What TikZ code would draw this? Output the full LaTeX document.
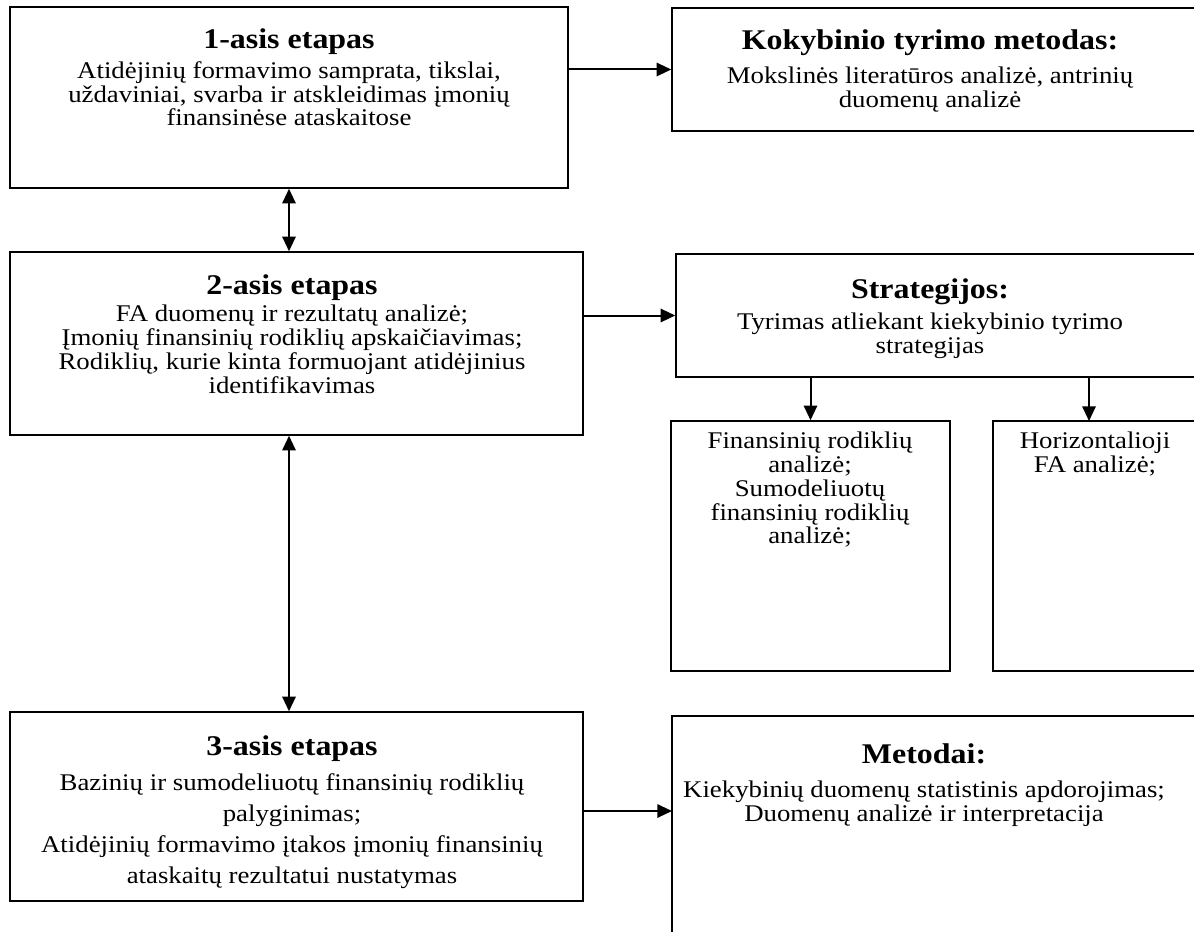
\documentclass[tikz,border=0pt]{standalone}
\usepackage{fontspec}
\setmainfont{Liberation Serif}[FakeStretch=1.12]
\usetikzlibrary{arrows.meta,fit}
\newcommand{\ttl}[1]{{\fontsize{21.4}{24}\selectfont\bfseries #1}}
\setlength{\lineskiplimit}{-8pt}

\begin{document}
\begin{tikzpicture}[x=0.75pt, y=-0.75pt,
  box/.style={draw, line width=1.1pt, inner sep=0pt},
  txt/.style={anchor=north, align=center, inner sep=0pt,
    font=\fontsize{17.95}{17.8}\selectfont},
  arr/.style={line width=1.5pt, -{Triangle[length=11pt,width=10pt]}},
  darr/.style={line width=1.5pt, {Triangle[length=11pt,width=10pt]}-{Triangle[length=11pt,width=10pt]}}]
\useasboundingbox (0,0) rectangle (1194,931);
\clip (0,0) rectangle (1194,931);

% boxes
\node[box, fit={(10,7) (568,188)}] (b1) {};
\node[box, fit={(672,8) (1215,131)}] (k) {};
\node[box, fit={(10,252) (583,435)}] (b2) {};
\node[box, fit={(676,254) (1215,377)}] (s) {};
\node[box, fit={(671,421) (950,671)}] (f) {};
\node[box, fit={(993,421) (1215,671)}] (h) {};
\node[box, fit={(10,712) (583,901)}] (b3) {};
\node[box, fit={(672,716) (1215,960)}] (m) {};

% texts
\node[txt] (t1) at (289,28) {\ttl{1-asis etapas}\\[5pt]
  Atidėjinių formavimo samprata, tikslai,\\
  uždaviniai, svarba ir atskleidimas įmonių\\
  finansinėse ataskaitose};
\node[txt] (tk) at (930,29) {\ttl{Kokybinio tyrimo metodas:}\\[8pt]
  Mokslinės literatūros analizė, antrinių\\
  duomenų analizė};
\node[txt] (t2) at (292,274) {\ttl{2-asis etapas}\\[3pt]
  FA duomenų ir rezultatų analizė;\\
  Įmonių finansinių rodiklių apskaičiavimas;\\
  Rodiklių, kurie kinta formuojant atidėjinius\\
  identifikavimas};
\node[txt] (ts) at (930,278) {\ttl{Strategijos:}\\[6pt]
  Tyrimas atliekant kiekybinio tyrimo\\
  strategijas};
\node[txt] (tf) at (810,432) {Finansinių rodiklių\\
  analizė;\\
  Sumodeliuotų\\
  finansinių rodiklių\\
  analizė;};
\node[txt] (th) at (1095,432) {Horizontalioji\\
  FA analizė;};
\node[txt, font=\fontsize{17.95}{23.25}\selectfont] (t3) at (292,735) {\ttl{3-asis etapas}\\[3.5pt]
  Bazinių ir sumodeliuotų finansinių rodiklių\\
  palyginimas;\\
  Atidėjinių formavimo įtakos įmonių finansinių\\
  ataskaitų rezultatui nustatymas};
\node[txt] (tm) at (924,743) {\ttl{Metodai:}\\[8pt]
  Kiekybinių duomenų statistinis apdorojimas;\\
  Duomenų analizė ir interpretacija};

% connectors
\coordinate (hx) at (1089,421);
\coordinate (mx) at (672,811);
\draw[arr] (b1.east |- k.west) -- (k.west);
\draw[darr] (b1.south) -- (b1.south |- b2.north);
\draw[arr] (b2.east |- s.west) -- (s.west);
\draw[arr] (f.north |- s.south) -- (f.north);
\draw[arr] (hx |- s.south) -- (hx);
\draw[darr] (b1.south |- b2.south) -- (b1.south |- b3.north);
\draw[arr] (b3.east |- mx) -- (mx);
\end{tikzpicture}
\end{document}
